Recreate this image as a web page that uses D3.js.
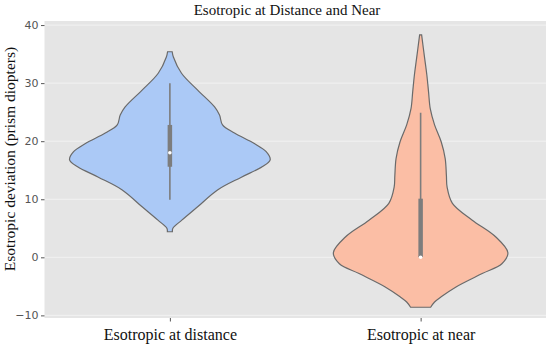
<!DOCTYPE html>
<html>
<head>
<meta charset="utf-8">
<script src="https://cdn.jsdelivr.net/npm/d3@7"></script>
<style>
  body { margin: 0; background: #fff; }
  svg { display: block; }
</style>
</head>
<body>
<div id="chart"></div>
<script>
// categories and colors
var categories = ["Esotropic at distance", "Esotropic at near"];
var colors = ["#abc9f6", "#fbbea5"];

// violin outlines: value (prism diopters) and relative half width
var distanceVals = [35.4, 34.5, 31.7, 28.8, 25.9, 24.5, 22.8, 21.4, 19.6, 18.2, 16.8, 15.6, 13.8, 11.6, 8.7, 6.4, 5.0, 4.4];
var distanceDens = [0.023, 0.035, 0.116, 0.277, 0.446, 0.495, 0.525, 0.644, 0.842, 0.96, 1.0, 0.92, 0.713, 0.475, 0.277, 0.119, 0.03, 0.025];

var nearVals = [38.3, 34.3, 31.4, 28.5, 25.6, 22.8, 19.9, 17.0, 14.1, 12.1, 9.3, 6.4, 3.5, 0.8, -1.1, -2.8, -5.1, -6.8, -7.7, -8.6];
var nearDens = [0.01, 0.04, 0.062, 0.079, 0.096, 0.139, 0.205, 0.245, 0.257, 0.264, 0.317, 0.515, 0.75, 0.87, 0.81, 0.614, 0.353, 0.205, 0.139, 0.1];

// box stats: [q1, median, q3, whisker low, whisker high]
var distanceBox = [15.6, 18, 22.8, 9.9, 30];
var nearBox = [0, 0, 10.1, 0, 24.9];

var yTicks = [-10, 0, 10, 20, 30, 40];

var width = 550, height = 349;
var margin = {top: 21, right: 4, bottom: 31, left: 44.5};

var svg = d3.select("#chart").append("svg")
    .attr("width", width)
    .attr("height", height);

var x = d3.scalePoint()
    .domain(categories)
    .range([margin.left, width - margin.right])
    .padding(0.5);

var y = d3.scaleLinear()
    .domain([-10.45, 40.7])
    .range([height - margin.bottom, margin.top]);

var w = d3.scaleLinear()
    .domain([0, 1])
    .range([0, x.step() * 0.4]);

// panel
svg.append("rect")
    .attr("x", margin.left)
    .attr("y", margin.top)
    .attr("width", width - margin.right - margin.left)
    .attr("height", height - margin.bottom - margin.top)
    .attr("fill", "#e5e5e5");

// grid
svg.append("g").selectAll("line")
    .data(yTicks)
    .enter().append("line")
    .attr("x1", margin.left)
    .attr("x2", width - margin.right)
    .attr("y1", function(d) { return y(d); })
    .attr("y2", function(d) { return y(d); })
    .attr("stroke", "#f2f2f2")
    .attr("stroke-width", 1);

// y axis
var yAxis = svg.append("g")
    .attr("transform", "translate(" + margin.left + ",0)")
    .call(d3.axisLeft(y).tickValues(yTicks).tickSize(3.5).tickPadding(2.5).tickFormat(function(d) { return d < 0 ? "\u2212" + Math.abs(d) : d; }));
yAxis.select(".domain").remove();
yAxis.selectAll(".tick line").attr("stroke", "#555");
yAxis.selectAll("text")
    .attr("fill", "#555")
    .style("font-family", "DejaVu Sans")
    .style("font-size", "11px");

// x axis
var xAxis = svg.append("g")
    .attr("transform", "translate(0," + (height - margin.bottom) + ")")
    .call(d3.axisBottom(x).tickSize(3.5).tickPadding(7));
xAxis.select(".domain").remove();
xAxis.selectAll(".tick line").attr("stroke", "#555");
xAxis.selectAll("text")
    .attr("fill", "#111")
    .style("font-family", "Liberation Serif")
    .style("font-size", "16px");

// violins
var violins = [
  {vals: distanceVals, dens: distanceDens, box: distanceBox},
  {vals: nearVals, dens: nearDens, box: nearBox}
];

violins.forEach(function(v, i) {
    var cx = x(categories[i]);
    var pts = v.vals.map(function(val, j) { return {v: val, d: v.dens[j]}; });
    var area = d3.area()
        .y(function(d) { return y(d.v); })
        .x0(function(d) { return cx - w(d.d); })
        .x1(function(d) { return cx + w(d.d); })
        .curve(d3.curveCatmullRom);

    svg.append("path")
        .datum(pts)
        .attr("d", area)
        .attr("fill", colors[i])
        .attr("stroke", "#6a6a6a")
        .attr("stroke-width", 1.2);

    // whisker
    svg.append("line")
        .attr("x1", cx).attr("x2", cx)
        .attr("y1", y(v.box[3])).attr("y2", y(v.box[4]))
        .attr("stroke", "#7d7d7d")
        .attr("stroke-width", 1.6);
    // box
    svg.append("line")
        .attr("x1", cx).attr("x2", cx)
        .attr("y1", y(v.box[0])).attr("y2", y(v.box[2]))
        .attr("stroke", "#7d7d7d")
        .attr("stroke-width", 4.5);
    // median
    svg.append("circle")
        .attr("cx", cx)
        .attr("cy", y(v.box[1]))
        .attr("r", 1.8)
        .attr("fill", "#fff");
});

// title
svg.append("text")
    .attr("x", 287)
    .attr("y", 15)
    .attr("text-anchor", "middle")
    .style("font-family", "Liberation Serif")
    .style("font-size", "15px")
    .attr("fill", "#111")
    .text("Esotropic at Distance and Near");

// y label
svg.append("text")
    .attr("transform", "translate(14.5," + 159 + ") rotate(-90)")
    .attr("text-anchor", "middle")
    .style("font-family", "Liberation Serif")
    .style("font-size", "15.5px")
    .attr("fill", "#111")
    .text("Esotropic deviation (prism diopters)");
</script>
</body>
</html>
